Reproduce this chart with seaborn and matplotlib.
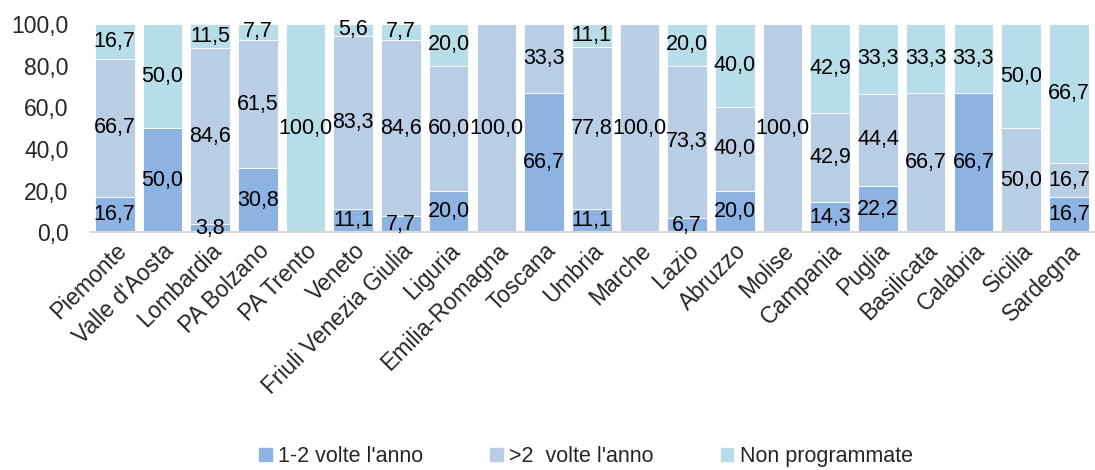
import numpy as np
import pandas as pd
import matplotlib
matplotlib.use("Agg")
import matplotlib.pyplot as plt
import seaborn as sns

regions = ["Piemonte", "Valle d'Aosta", "Lombardia", "PA Bolzano", "PA Trento", "Veneto",
           "Friuli Venezia Giulia", "Liguria", "Emilia-Romagna", "Toscana", "Umbria", "Marche",
           "Lazio", "Abruzzo", "Molise", "Campania", "Puglia", "Basilicata", "Calabria",
           "Sicilia", "Sardegna"]
freq_1_2 = [16.7, 50.0, 3.8, 30.8, 0, 11.1, 7.7, 20.0, 0, 66.7, 11.1, 0,
            6.7, 20.0, 0, 14.3, 22.2, 0, 66.7, 0, 16.7]
freq_gt2 = [66.7, 0, 84.6, 61.5, 0, 83.3, 84.6, 60.0, 100.0, 33.3, 77.8, 100.0,
            73.3, 40.0, 100.0, 42.9, 44.4, 66.7, 0, 50.0, 16.7]
non_prog = [16.7, 50.0, 11.5, 7.7, 100.0, 5.6, 7.7, 20.0, 0, 0, 11.1, 0,
            20.0, 40.0, 0, 42.9, 33.3, 33.3, 33.3, 50.0, 66.7]
series_names = ["1-2 volte l'anno", ">2  volte l'anno", "Non programmate"]
colors = ["#8DB3E2", "#B9CDE5", "#B7DEE8"]

sns.set_style("white")
plt.rcParams["font.family"] = ["Liberation Sans", "DejaVu Sans"]

fig = plt.figure(figsize=(10.95, 4.70), dpi=100)
ax = fig.add_axes([0.083, 0.506, 0.917, 0.443])

bottom = np.zeros(len(regions))
handles = []
for name, vals, col in zip(series_names, [freq_1_2, freq_gt2, non_prog], colors):
    vals = np.array(vals, dtype=float)
    df = pd.DataFrame({"regione": regions, "valore": vals})
    sns.barplot(data=df, x="regione", y="valore", color=col, saturation=1, bottom=bottom,
                width=0.83, edgecolor="white", linewidth=0.6, ax=ax)
    for i, v in enumerate(vals):
        if v > 0:
            ax.text(i, bottom[i] + v / 2, f"{v:.1f}".replace(".", ","),
                    ha="center", va="center", fontsize=15.5, color="black")
    handles.append(plt.Rectangle((0, 0), 1, 1, color=col, label=name))
    bottom = bottom + vals

ax.set_ylim(0, 100)
ax.set_xlim(-0.5, len(regions) - 0.45)
ax.set_yticks(np.arange(0, 101, 20))
ax.set_yticklabels([f"{t:.1f}".replace(".", ",") for t in range(0, 101, 20)], fontsize=16.5)
ax.set_xticks(range(len(regions)))
ax.set_xticklabels(regions, rotation=45, ha="right", rotation_mode="anchor", fontsize=16.5)
ax.tick_params(axis="x", length=0, pad=5)
ax.tick_params(axis="y", length=0, pad=16)
ax.set_xlabel("")
ax.set_ylabel("")
for s in ["top", "right", "left"]:
    ax.spines[s].set_visible(False)
ax.spines["bottom"].set_color("#D9D9D9")
ax.spines["bottom"].set_linewidth(1.5)

fig.legend(handles=handles, loc="lower center", bbox_to_anchor=(0.535, -0.035), ncol=3,
           frameon=False, fontsize=15.5, handlelength=0.6, handleheight=0.6,
           handletextpad=0.3, columnspacing=3.1)

fig.savefig("out.png", dpi=100)
